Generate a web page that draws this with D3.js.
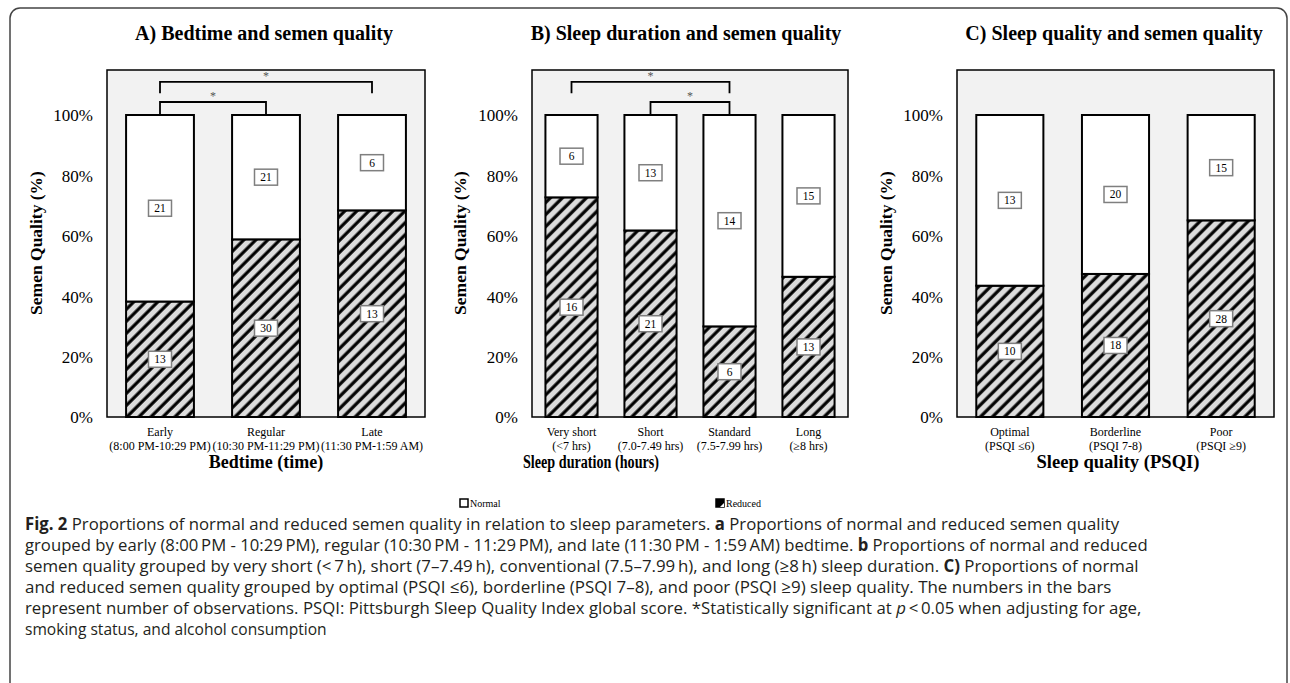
<!DOCTYPE html>
<html>
<head>
<meta charset="utf-8">
<script src="https://cdn.jsdelivr.net/npm/d3@7"></script>
<style>
  body { margin: 0; background: #fff; }
  svg { display: block; }
  .serif, .serif text { font-family: "Liberation Serif", "Times New Roman", serif; }
  .cap { font-family: "Open Sans", "Noto Sans", sans-serif; font-size: 17px; fill: #231f20; }
</style>
</head>
<body>
<div id="container"></div>
<script>
// ---- data ----
var bedCats = [["Early", "(8:00 PM-10:29 PM)"], ["Regular", "(10:30 PM-11:29 PM)"], ["Late", "(11:30 PM-1:59 AM)"]];
var bedNormal = [21, 21, 6];
var bedReduced = [13, 30, 13];
var bedSig = [[0, 1, 0], [0, 2, 1]]; // from, to, level

var durCats = [["Very short", "(<7 hrs)"], ["Short", "(7.0-7.49 hrs)"], ["Standard", "(7.5-7.99 hrs)"], ["Long", "(\u22658 hrs)"]];
var durNormal = [6, 13, 14, 15];
var durReduced = [16, 21, 6, 13];
var durSig = [[0, 2, 1], [1, 2, 0]];

var psqiCats = [["Optimal", "(PSQI \u22646)"], ["Borderline", "(PSQI 7-8)"], ["Poor", "(PSQI \u22659)"]];
var psqiNormal = [13, 20, 15];
var psqiReduced = [10, 18, 28];
var psqiSig = [];

var yTicks = [0, 0.2, 0.4, 0.6, 0.8, 1.0];

var W = 1290, H = 683;
var svg = d3.select("#container").append("svg").attr("width", W).attr("height", H);

// hatch for "Reduced"
var defs = svg.append("defs");
var pat = defs.append("pattern")
    .attr("id", "hatch")
    .attr("patternUnits", "userSpaceOnUse")
    .attr("width", 8.5).attr("height", 8.5)
    .attr("patternTransform", "rotate(45)");
pat.append("rect").attr("width", 8.5).attr("height", 8.5).attr("fill", "#dcdcdc");
pat.append("line").attr("x1", 2).attr("y1", 0).attr("x2", 2).attr("y2", 8.5)
    .attr("stroke", "#000").attr("stroke-width", 3.2);

// outer frame
svg.append("rect")
    .attr("x", 10).attr("y", 8).attr("width", 1277).attr("height", 700)
    .attr("rx", 10)
    .attr("fill", "none").attr("stroke", "#444").attr("stroke-width", 1.5);

var plotTop = 70, plotBottom = 417;
var y = d3.scaleLinear().domain([0, 1]).range([417, 115]);
var serifFont = "'Liberation Serif', 'Times New Roman', serif";

function drawPanel(cfg) {
    var g = svg.append("g").attr("class", "serif");

    var rows = cfg.cats.map(function(c, i) {
        var tot = cfg.normal[i] + cfg.reduced[i];
        return { key: c[0], reduced: cfg.reduced[i] / tot, normal: cfg.normal[i] / tot,
                 nReduced: cfg.reduced[i], nNormal: cfg.normal[i] };
    });
    var x = d3.scaleBand()
        .domain(rows.map(function(d) { return d.key; }))
        .range([cfg.x0, cfg.x1])
        .paddingInner(cfg.pad)
        .paddingOuter(cfg.pad / 2);

    // plot area
    g.append("rect")
        .attr("x", cfg.x0).attr("y", plotTop)
        .attr("width", cfg.x1 - cfg.x0).attr("height", plotBottom - plotTop)
        .attr("fill", "#f2f2f2").attr("stroke", "#000").attr("stroke-width", 1.5);

    // title
    g.append("text")
        .attr("x", cfg.titleX).attr("y", 40)
        .attr("text-anchor", "middle")
        .style("font-weight", "bold").style("font-size", "20px")
        .text(cfg.title);

    // y axis
    var yAxis = d3.axisLeft(y).tickValues(yTicks).tickSize(0).tickPadding(0)
        .tickFormat(d3.format(".0%"));
    var ya = g.append("g").attr("transform", "translate(" + cfg.tickX + ",0)").call(yAxis);
    ya.attr("font-family", null).attr("font-size", null);
    ya.select(".domain").remove();
    ya.selectAll("text")
        .style("font-family", serifFont)
        .style("font-size", "17px").attr("fill", "#000").attr("dy", "0.35em");

    g.append("text")
        .attr("transform", "translate(" + cfg.yTitleX + ",243) rotate(-90)")
        .attr("text-anchor", "middle")
        .attr("dy", "0.35em")
        .style("font-weight", "bold").style("font-size", "17.5px")
        .text("Semen Quality (%)");

    // stacked bars
    var stack = d3.stack().keys(["reduced", "normal"]);
    var series = stack(rows);
    var layers = g.selectAll("g.layer").data(series).enter().append("g").attr("class", "layer");
    layers.selectAll("rect")
        .data(function(s) { return s.map(function(v) { v.k = s.key; return v; }); })
        .enter().append("rect")
        .attr("x", function(d) { return x(d.data.key); })
        .attr("width", x.bandwidth())
        .attr("y", function(d) { return y(d[1]); })
        .attr("height", function(d) { return y(d[0]) - y(d[1]); })
        .attr("fill", function(d) { return d.k === "reduced" ? "url(#hatch)" : "#fff"; })
        .attr("stroke", "#000").attr("stroke-width", 2);

    // count labels
    series.forEach(function(s) {
        s.forEach(function(d) {
            var cx = x(d.data.key) + x.bandwidth() / 2;
            var cy = y((d[0] + d[1]) / 2);
            var n = s.key === "reduced" ? d.data.nReduced : d.data.nNormal;
            g.append("rect")
                .attr("x", cx - 11.5).attr("y", cy - 8)
                .attr("width", 23).attr("height", 16)
                .attr("fill", "#fff").attr("stroke", "#7f7f7f").attr("stroke-width", 1.5);
            g.append("text")
                .attr("x", cx).attr("y", cy).attr("dy", "0.35em")
                .attr("text-anchor", "middle")
                .style("font-size", "11.5px")
                .text(n);
        });
    });

    // x tick labels
    rows.forEach(function(d, i) {
        var cx = x(d.key) + x.bandwidth() / 2;
        var t = g.append("text").attr("text-anchor", "middle")
            .style("font-size", "12px");
        t.append("tspan").attr("x", cx).attr("y", 436).text(cfg.cats[i][0]);
        t.append("tspan").attr("x", cx).attr("y", 449.5).text(cfg.cats[i][1]);
    });

    var xt = g.append("text")
        .attr("x", cfg.xTitleX).attr("y", 468)
        .attr("text-anchor", "middle")
        .style("font-weight", "bold").style("font-size", "18px")
        .text(cfg.xTitle);
    if (cfg.xTitleLen) xt.attr("textLength", cfg.xTitleLen).attr("lengthAdjust", "spacingAndGlyphs");

    // significance brackets
    cfg.sig.forEach(function(b) {
        var xa = x(rows[b[0]].key) + x.bandwidth() / 2;
        var xb = x(rows[b[1]].key) + x.bandwidth() / 2;
        var top = y(b[2] ? 1.11 : 1.043);
        var foot = y(b[2] ? 1.072 : 1.003);
        g.append("path")
            .attr("d", "M" + xa + "," + foot + "V" + top + "H" + xb + "V" + foot)
            .attr("fill", "none").attr("stroke", "#000").attr("stroke-width", 1.8);
        g.append("text")
            .attr("x", (xa + xb) / 2).attr("y", top - 2)
            .attr("text-anchor", "middle")
            .style("font-size", "12px").attr("fill", "#555")
            .text("*");
    });
}

drawPanel({ cats: bedCats, normal: bedNormal, reduced: bedReduced, sig: bedSig,
    x0: 107, x1: 425, pad: 0.36, title: "A) Bedtime and semen quality", titleX: 264,
    tickX: 93, yTitleX: 36, xTitle: "Bedtime (time)", xTitleX: 266 });
drawPanel({ cats: durCats, normal: durNormal, reduced: durReduced, sig: durSig,
    x0: 532, x1: 848, pad: 0.34, title: "B) Sleep duration and semen quality", titleX: 686,
    tickX: 518, yTitleX: 460, xTitle: "Sleep duration (hours)", xTitleX: 591, xTitleLen: 136 });
drawPanel({ cats: psqiCats, normal: psqiNormal, reduced: psqiReduced, sig: psqiSig,
    x0: 957, x1: 1274, pad: 0.365, title: "C) Sleep quality and semen quality", titleX: 1114,
    tickX: 943, yTitleX: 886, xTitle: "Sleep quality (PSQI)", xTitleX: 1118, xTitleLen: 163 });

// legend
var legend = [["Normal", "#fff", 460], ["Reduced", "url(#hatch)", 716]];
var lg = svg.append("g").attr("class", "serif");
legend.forEach(function(l) {
    lg.append("rect").attr("x", l[2]).attr("y", 499).attr("width", 8).attr("height", 8)
        .attr("fill", l[1] === "#fff" ? "#fff" : "#000").attr("stroke", "#000").attr("stroke-width", 1.5);
    if (l[1] !== "#fff") {
        lg.append("path").attr("d", "M" + (l[2] + 4) + ",507 L" + (l[2] + 8) + ",503 L" + (l[2] + 8) + ",507 Z").attr("fill", "#fff");
    }
    lg.append("text").attr("x", l[2] + 10).attr("y", 506.5).style("font-size", "10px").text(l[0]);
});

// caption, each line squeezed to the width it has in the figure
var capLines = [
    { len: 1095, parts: [["Fig. 2", "b"], [" Proportions of normal and reduced semen quality in relation to sleep parameters. "], ["a", "b"], [" Proportions of normal and reduced semen quality"]] },
    { len: 1124, parts: [["grouped by early (8:00\u2009PM - 10:29\u2009PM), regular (10:30\u2009PM - 11:29\u2009PM), and late (11:30\u2009PM - 1:59\u2009AM) bedtime. "], ["b", "b"], [" Proportions of normal and reduced"]] },
    { len: 1115, parts: [["semen quality grouped by very short (<\u20097\u2009h), short (7\u20137.49\u2009h), conventional (7.5\u20137.99\u2009h), and long (\u22658\u2009h) sleep duration. "], ["C)", "b"], [" Proportions of normal"]] },
    { len: 1087, parts: [["and reduced semen quality grouped by optimal (PSQI \u22646), borderline (PSQI 7\u20138), and poor (PSQI \u22659) sleep quality. The numbers in the bars"]] },
    { len: 1117, parts: [["represent number of observations. PSQI: Pittsburgh Sleep Quality Index global score. *Statistically significant at "], ["p", "i"], ["\u2009<\u20090.05 when adjusting for age,"]] },
    { len: 302, parts: [["smoking status, and alcohol consumption"]] }
];
capLines.forEach(function(line, i) {
    var t = svg.append("text").attr("class", "cap").attr("x", 0).attr("y", 0);
    line.parts.forEach(function(p) {
        var s = t.append("tspan").text(p[0]);
        if (p[1] === "b") s.style("font-weight", "bold");
        if (p[1] === "i") s.style("font-style", "italic");
    });
    var natural = t.node().getComputedTextLength();
    t.attr("transform", "translate(25," + (530 + i * 21) + ") scale(" + (line.len / natural) + ",1)");
});
</script>
</body>
</html>
